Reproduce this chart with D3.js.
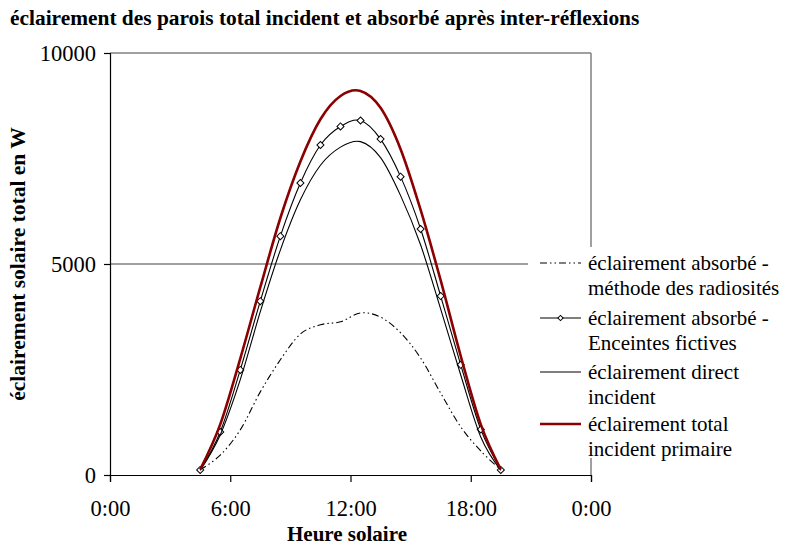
<!DOCTYPE html>
<html>
<head>
<meta charset="utf-8">
<script src="https://cdn.jsdelivr.net/npm/d3@7/dist/d3.min.js"></script>
<style>
  html, body { margin: 0; padding: 0; background: #fff; }
  svg text { font-family: "Liberation Serif", "Times New Roman", serif; }
</style>
</head>
<body>
<svg id="chart" width="785" height="546" font-family="Liberation Serif, serif"></svg>
<script>
// Solar hours (half-hour points)
const hours = [4.5, 5.5, 6.5, 7.5, 8.5, 9.5, 10.5, 11.5, 12.5, 13.5, 14.5, 15.5, 16.5, 17.5, 18.5, 19.5];

// Series values in W
const absorbedRadiosity = [120, 470, 1070, 1970, 2730, 3340, 3560, 3630, 3840, 3740, 3370, 2770, 1940, 1140, 570, 120];
const absorbedEnclosures = [120, 1020, 2490, 4120, 5660, 6920, 7820, 8260, 8400, 7960, 7070, 5830, 4240, 2610, 1080, 120];
const directIncident = [110, 950, 2260, 3870, 5330, 6520, 7340, 7770, 7900, 7520, 6620, 5450, 3930, 2370, 900, 110];
const totalIncident = [130, 1200, 2760, 4450, 6090, 7430, 8430, 8980, 9100, 8700, 7720, 6280, 4610, 2820, 1200, 130];

// Axis ticks
const xTickValues = [0, 6, 12, 18, 24];
const xTickLabels = ["0:00", "6:00", "12:00", "18:00", "0:00"];
const yTickValues = [0, 5000, 10000];

const seriesNames = [
  ["éclairement absorbé -", "méthode des radiosités"],
  ["éclairement absorbé -", "Enceintes fictives"],
  ["éclairement direct", "incident"],
  ["éclairement total", "incident primaire"]
];

const serif = "Liberation Serif, Times New Roman, serif";
const svg = d3.select("#chart");
const plotLeft = 110, plotRight = 591, plotTop = 53, plotBottom = 475;

const x = d3.scaleLinear().domain([0, 24]).range([plotLeft, plotRight]);
const y = d3.scaleLinear().domain([0, 10000]).range([plotBottom, plotTop]);

// Title
svg.append("text")
  .attr("x", 10).attr("y", 25)
  .attr("font-family", serif)
  .attr("font-size", 21.4).attr("font-weight", "bold")
  .text("éclairement des parois total incident et absorbé après inter-réflexions");

// Gridlines and plot border (gray)
svg.append("g")
  .selectAll("line")
  .data(yTickValues.filter(d => d > 0))
  .join("line")
  .attr("x1", plotLeft).attr("x2", plotRight)
  .attr("y1", d => y(d)).attr("y2", d => y(d))
  .attr("stroke", "#808080").attr("stroke-width", 1.5);
svg.append("line")
  .attr("x1", plotRight).attr("x2", plotRight)
  .attr("y1", plotTop).attr("y2", plotBottom)
  .attr("stroke", "#808080").attr("stroke-width", 1.5);

// Axes
const xAxis = svg.append("g")
  .attr("transform", `translate(0,${plotBottom})`)
  .call(d3.axisBottom(x).tickValues(xTickValues).tickFormat((d, i) => xTickLabels[i]).tickSize(7).tickPadding(18));
const yAxis = svg.append("g")
  .attr("transform", `translate(${plotLeft},0)`)
  .call(d3.axisLeft(y).tickValues(yTickValues).tickFormat(d3.format("d")).tickSize(6).tickPadding(8));
[xAxis, yAxis].forEach(g => {
  g.attr("font-family", serif);
  g.select(".domain").attr("stroke", "#000").attr("stroke-width", 1.2);
  g.selectAll(".tick line").attr("stroke", "#000").attr("stroke-width", 1.2);
  g.selectAll(".tick text").attr("font-size", 22.5).attr("font-family", serif).attr("fill", "#000");
});

// Axis titles
svg.append("text")
  .attr("x", 347).attr("y", 541)
  .attr("text-anchor", "middle").attr("font-family", serif)
  .attr("font-size", 21).attr("font-weight", "bold")
  .text("Heure solaire");
svg.append("text")
  .attr("transform", `translate(25,${(plotTop + plotBottom) / 2}) rotate(-90)`)
  .attr("text-anchor", "middle").attr("font-family", serif)
  .attr("font-size", 21.5).attr("font-weight", "bold")
  .text("éclairement solaire total en W");

// Series (smoothed lines)
const line = d3.line()
  .x((d, i) => x(hours[i]))
  .y(d => y(d))
  .curve(d3.curveCatmullRom.alpha(0));

const dashDot = "7,3,1.5,3,1.5,3";

svg.append("path").datum(absorbedRadiosity)
  .attr("d", line).attr("fill", "none")
  .attr("stroke", "#000").attr("stroke-width", 1.1)
  .attr("stroke-dasharray", dashDot);

svg.append("path").datum(absorbedEnclosures)
  .attr("d", line).attr("fill", "none")
  .attr("stroke", "#000").attr("stroke-width", 1.1);

const diamond = d3.symbol(d3.symbolSquare, 25);
svg.append("g").selectAll("path")
  .data(absorbedEnclosures)
  .join("path")
  .attr("d", diamond)
  .attr("transform", (d, i) => `translate(${x(hours[i])},${y(d)}) rotate(45)`)
  .attr("fill", "#fff").attr("stroke", "#000").attr("stroke-width", 1);

svg.append("path").datum(directIncident)
  .attr("d", line).attr("fill", "none")
  .attr("stroke", "#000").attr("stroke-width", 1.1);

svg.append("path").datum(totalIncident)
  .attr("d", line).attr("fill", "none")
  .attr("stroke", "#8b0000").attr("stroke-width", 2.6);

// Legend
const legend = svg.append("g").attr("font-family", serif);
legend.append("rect")
  .attr("x", 528).attr("y", 247).attr("width", 257).attr("height", 211)
  .attr("fill", "#fff");

const legendY = [263, 318, 372, 424];
const legendStyles = [
  { stroke: "#000", width: 1.1, dash: dashDot, marker: false },
  { stroke: "#000", width: 1.1, dash: null, marker: true },
  { stroke: "#000", width: 1.1, dash: null, marker: false },
  { stroke: "#8b0000", width: 2.6, dash: null, marker: false }
];
legendStyles.forEach((s, k) => {
  const ly = legendY[k];
  legend.append("line")
    .attr("x1", 540).attr("x2", 581).attr("y1", ly).attr("y2", ly)
    .attr("stroke", s.stroke).attr("stroke-width", s.width)
    .attr("stroke-dasharray", s.dash);
  if (s.marker) {
    legend.append("path")
      .attr("d", d3.symbol(d3.symbolSquare, 14))
      .attr("transform", `translate(560.5,${ly}) rotate(45)`)
      .attr("fill", "#fff").attr("stroke", "#000").attr("stroke-width", 1);
  }
  const t = legend.append("text")
    .attr("x", 588).attr("y", ly + 7)
    .attr("font-family", serif)
    .attr("font-size", 21);
  seriesNames[k].forEach((ln, j) => {
    t.append("tspan").attr("x", 588).attr("dy", j === 0 ? 0 : 24.5).text(ln);
  });
});
</script>
</body>
</html>
